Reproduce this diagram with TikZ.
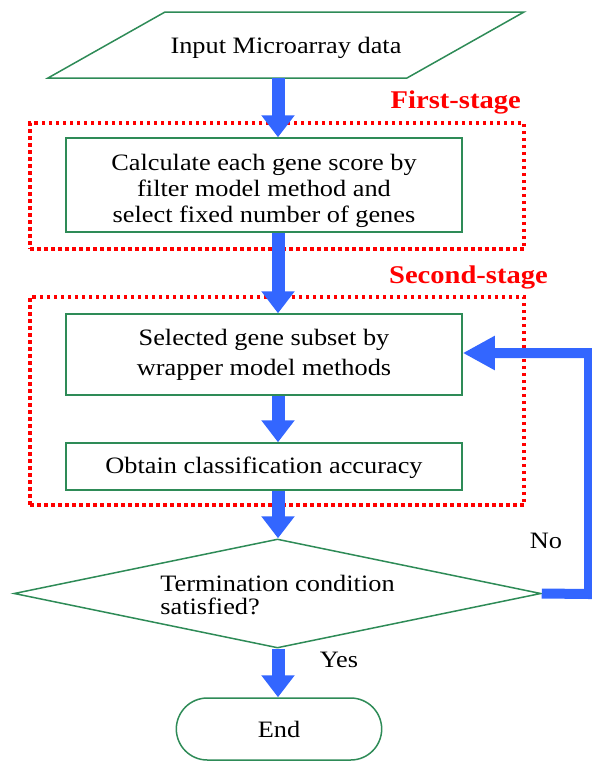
\documentclass[tikz,border=0pt]{standalone}
\usepackage{fontspec}
\setmainfont{Liberation Serif}[FakeStretch=1.12]
\usetikzlibrary{arrows.meta,shapes.geometric,shapes.misc}
\definecolor{boxgreen}{RGB}{46,139,87}
\definecolor{flowblue}{RGB}{51,102,255}
\definecolor{stagered}{RGB}{255,0,0}
\begin{document}
\begin{tikzpicture}[x=1pt,y=-1pt,
  gline/.style={draw=boxgreen, line width=1.5pt},
  gbox/.style={gline, rectangle, minimum width=396pt, inner sep=0pt, align=center,
    font=\fontsize{23.5}{26}\selectfont},
  stagebox/.style={draw=stagered, line width=3.5pt, dash pattern=on 3.5pt off 3.5pt,
    minimum width=494pt, inner sep=0pt},
  stagelabel/.style={text=stagered, font=\bfseries\fontsize{25.5}{28}\selectfont,
    anchor=east, inner sep=0pt},
  flow/.style={draw=flowblue, line width=13pt, -{Triangle[width=32pt,length=22pt]}},
  loopflow/.style={draw=flowblue, line width=10pt, line join=miter,
    -{Triangle[width=32pt,length=32pt]}},
  lbl/.style={font=\fontsize{23.5}{26}\selectfont, inner sep=0pt}]
\useasboundingbox (0,0) rectangle (592,761);

% x position of the main flow line
\coordinate (spine) at (278,0);

% stage frames and their titles
\node[stagebox, minimum height=126pt] (s1) at (277,186) {};
\node[stagelabel] (s1lbl) at (521,102) {First-stage};
\node[stagebox, minimum height=208pt] (s2) at (277,401) {};
\node[stagelabel] (s2lbl) at (548,277) {Second-stage};

% input parallelogram
\draw[gline] (48,78) -- (165,12) -- (524,12) -- (407,78) -- cycle;
\node[lbl] (inp) at (286,48) {Input Microarray data};
\coordinate (inpb) at (278,78);

% process boxes (a tall strut on the first line sets the text a little lower)
\node[gbox, minimum height=94pt] (b1) at (264,185)
  {\rule{0pt}{28pt}Calculate each gene score by\\filter model method and\\select fixed number of genes};
\node[gbox, minimum height=81pt, font=\fontsize{23.5}{30}\selectfont] (b2) at (264,354.5)
  {Selected gene subset by\\wrapper model methods};
\node[gbox, minimum height=47pt] (b3) at (264,466.5) {\rule{0pt}{20pt}Obtain classification accuracy};

% decision
\node[diamond, gline, minimum width=527pt, minimum height=109pt, aspect=4.8,
  inner sep=0pt, align=left, font=\fontsize{23.5}{23}\selectfont] (dia) at (277.5,593.5)
  {\rule{0pt}{20pt}Termination condition\\satisfied?};

% terminator
\node[rounded rectangle, gline, minimum width=212pt, minimum height=62pt,
  font=\fontsize{23.5}{26}\selectfont] (endn) at (279,729) {End};

% main flow
\draw[flow] (inpb) -- (b1.north -| spine);
\draw[flow] (b1.south -| spine) -- (b2.north -| spine);
\draw[flow] (b2.south -| spine) -- (b3.north -| spine);
\draw[flow] (b3.south -| spine) -- (dia.north -| spine);
\draw[flow] (dia.south -| spine) -- (endn.north -| spine);

% loop back when the condition is not met
\coordinate (lr) at (589,594);
\coordinate (lt) at (589,353);
\draw[loopflow] (dia.east) -- (lr) -- (lt) -- (b2.east |- lt);

\node[lbl] (nolbl) at (546,541) {No};
\node[lbl] (yeslbl) at (339,660) {Yes};
\end{tikzpicture}
\end{document}
